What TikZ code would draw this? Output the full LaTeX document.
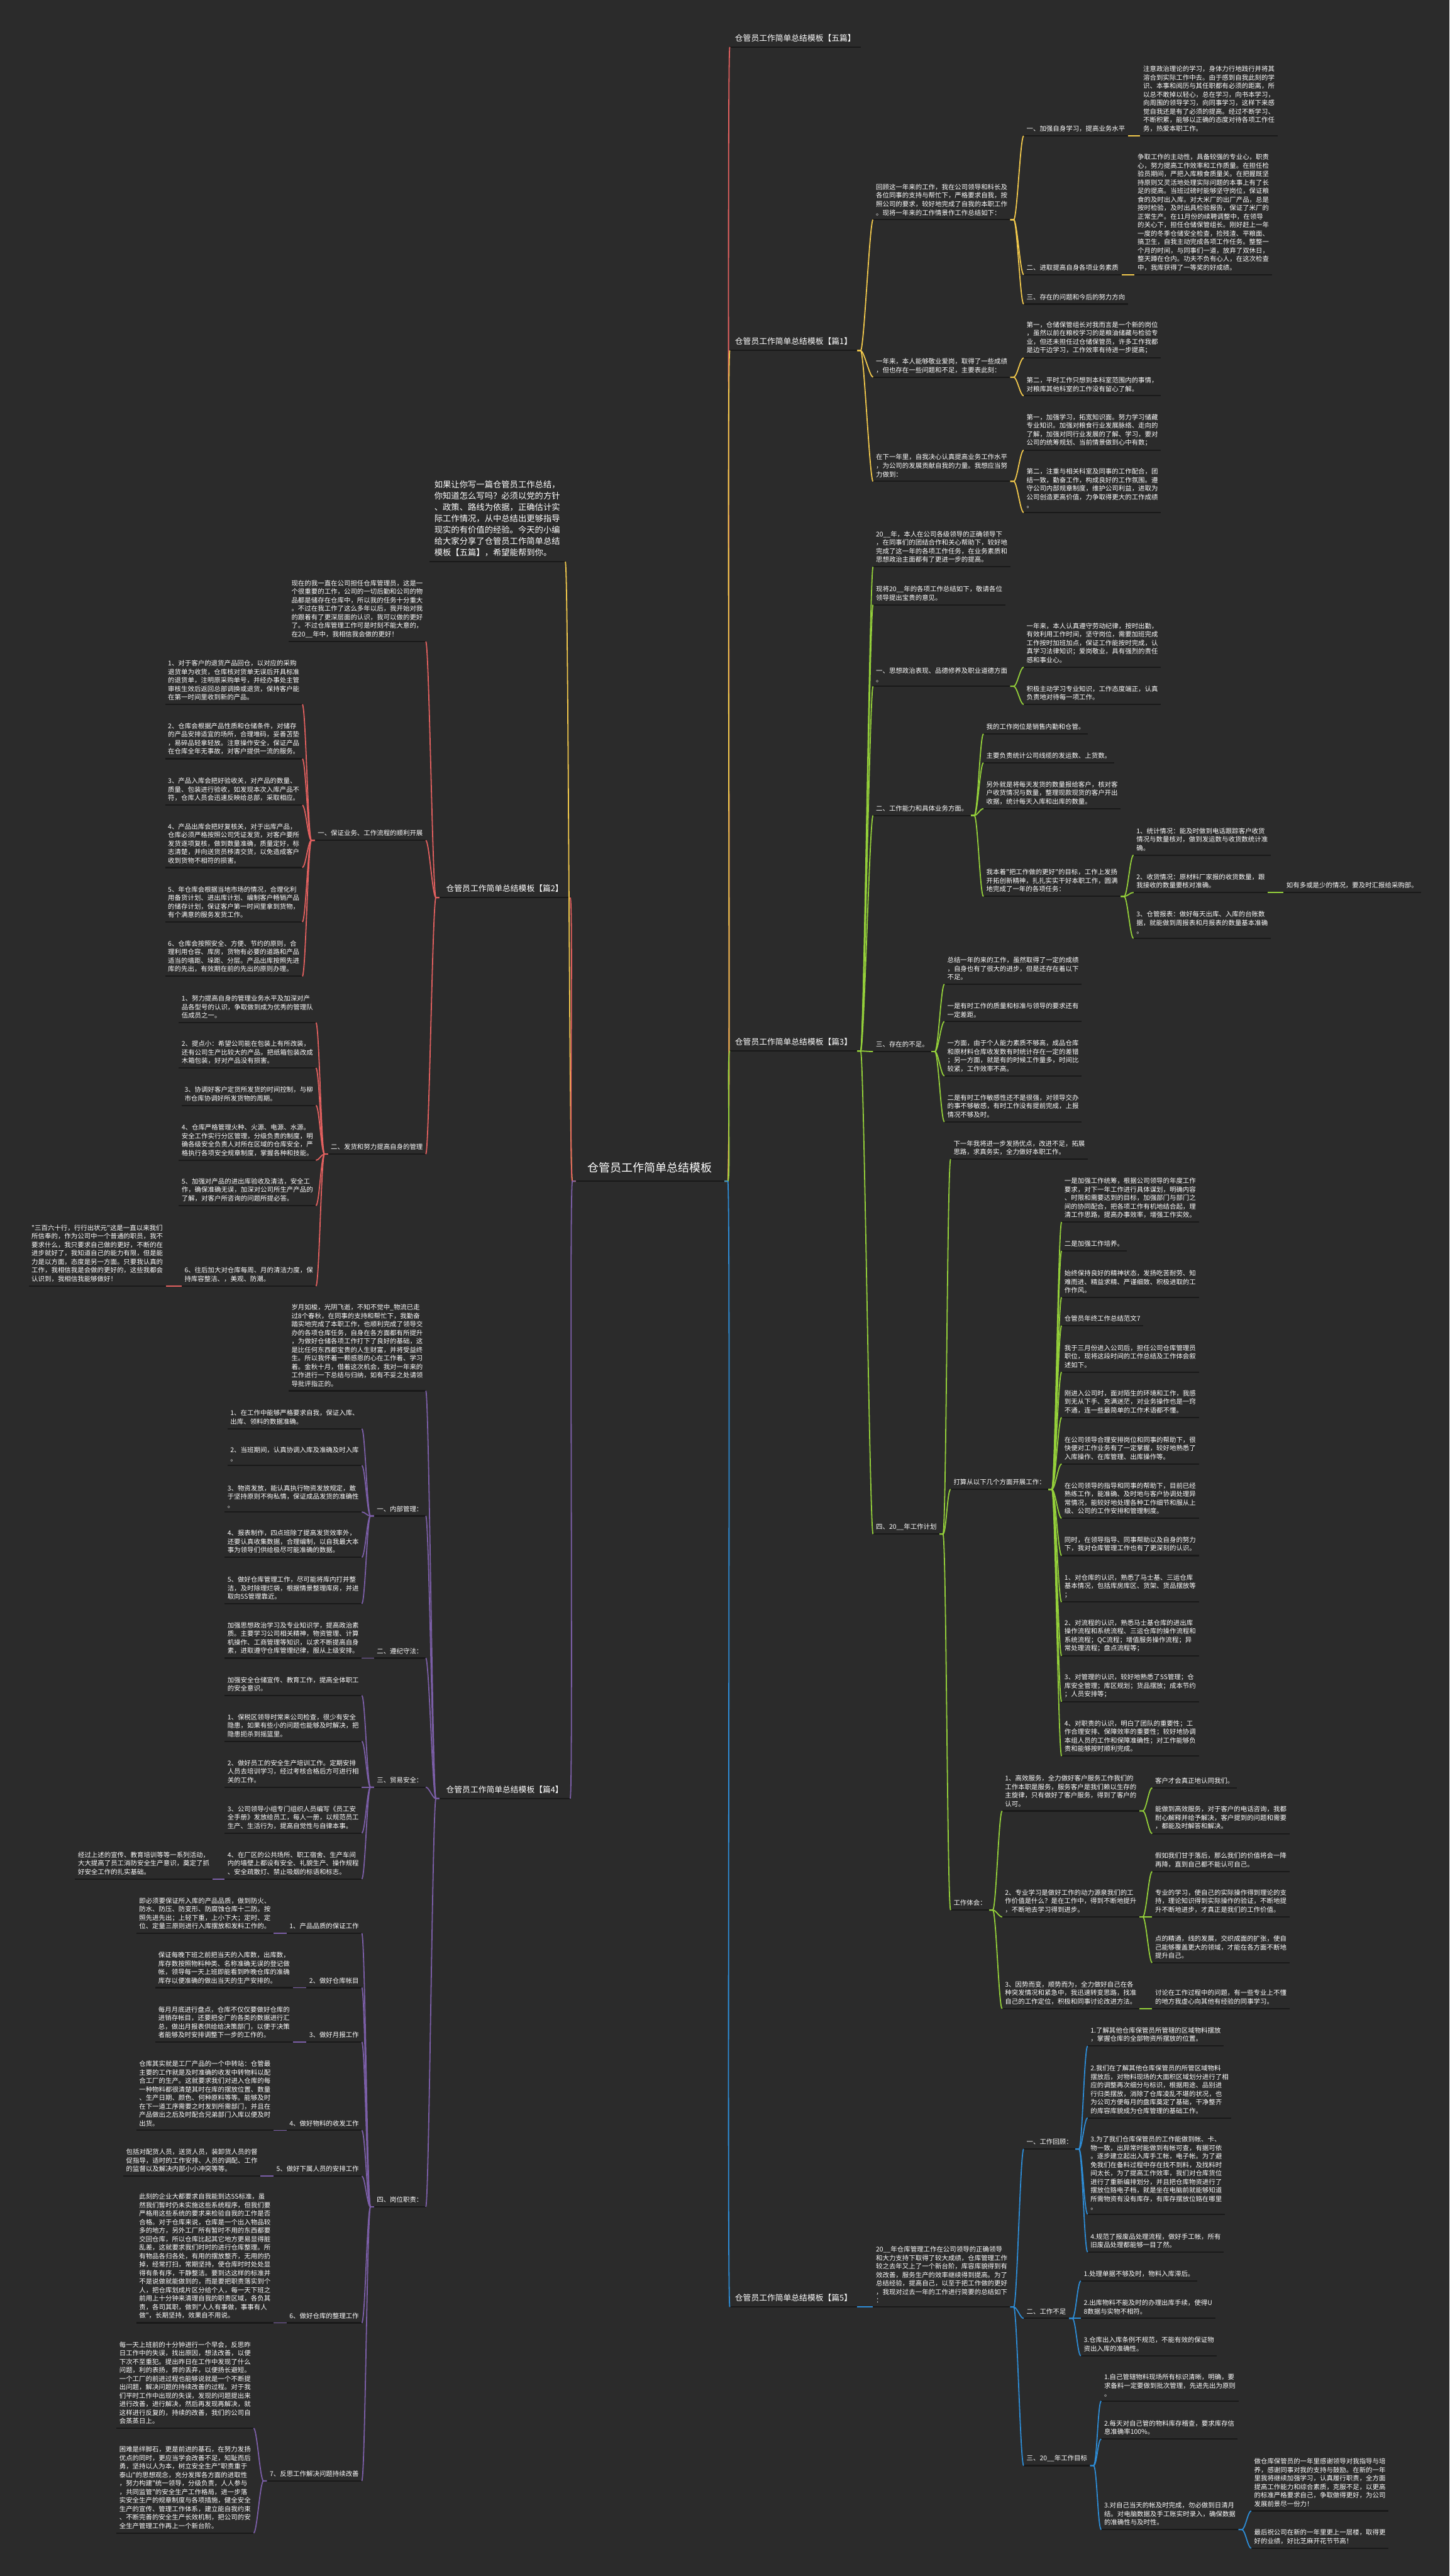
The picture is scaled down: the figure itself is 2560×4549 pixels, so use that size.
\documentclass[tikz,border=0pt]{standalone}
\usepackage{fontspec}
\newfontfamily\cjk{Noto Sans CJK SC}
\usetikzlibrary{calc}
\definecolor{bgc}{HTML}{2B2B2B}
\definecolor{cRed}{HTML}{E2605F}
\definecolor{cYel}{HTML}{F2C94C}
\definecolor{cGrn}{HTML}{94D03A}
\definecolor{cPur}{HTML}{7B5EA7}
\definecolor{cBlu}{HTML}{2D8CD6}
\tikzset{
 tx/.style={font=\cjk\fontsize{11.6pt}{15pt}\selectfont, text=white, align=left, inner xsep=5pt, inner ysep=7pt},
 lbl/.style={font=\cjk\fontsize{14.2pt}{18pt}\selectfont, text=white, align=left, inner xsep=9pt, inner ysep=9pt},
 ul/.style={line width=2.4pt, draw=black!90},
 cn/.style={line width=2pt}
}
\newcommand\mkR[4]{\node[tx,anchor=south west] (#1) at (#2,#3) {#4}; \draw[ul] (#1.south west) -- (#1.south east);}
\newcommand\mkL[4]{\node[tx,anchor=south east] (#1) at (#2,#3) {#4}; \draw[ul] (#1.south west) -- (#1.south east);}
\newcommand\cR[3]{\draw[cn,#1] (#2.south east) -- ++(6,0) .. controls +(6,0) and +(-6,0) .. (#3.south west);}
\newcommand\cL[3]{\draw[cn,#1] (#2.south west) -- ++(-6,0) .. controls +(-6,0) and +(6,0) .. (#3.south east);}
\begin{document}
\begin{tikzpicture}[x=1pt,y=-1pt]
\useasboundingbox (0,0) rectangle (2560,4549);
\fill[bgc] (0,0) rectangle (2560,4549);

% root
\node[font=\cjk\fontsize{20pt}{24pt}\selectfont, text=white, inner xsep=21pt, inner ysep=14pt, anchor=south west] (root) at (1017,2086) {仓管员工作简单总结模板};
\draw[ul] (root.south west) -- (root.south east);

% level-1 right
\node[lbl,anchor=south west] (w5) at (1289,83) {仓管员工作简单总结模板【五篇】};
\node[lbl,anchor=south west] (w1) at (1289,619) {仓管员工作简单总结模板【篇1】};
\node[lbl,anchor=south west] (w3) at (1289,1856) {仓管员工作简单总结模板【篇3】};
\node[lbl,anchor=south west] (w5b) at (1289,4074) {仓管员工作简单总结模板【篇5】};
% level-1 left
\node[font=\cjk\fontsize{14.8pt}{20pt}\selectfont, text=white, align=left, inner xsep=9pt, inner ysep=9pt, anchor=south west] (intro) at (758,992) {如果让你写一篇仓管员工作总结，\\你知道怎么写吗？必须以党的方针\\、政策、路线为依据，正确估计实\\际工作情况，从中总结出更够指导\\现实的有价值的经验。今天的小编\\给大家分享了仓管员工作简单总结\\模板【五篇】，希望能帮到你。};
\node[lbl,anchor=south east,inner xsep=12pt] (p2) at (1007,1585) {仓管员工作简单总结模板【篇2】};
\node[lbl,anchor=south east,inner xsep=12pt] (p4) at (1007,3176) {仓管员工作简单总结模板【篇4】};
\foreach \n in {w5,w1,w3,w5b,intro,p2,p4} \draw[ul] (\n.south west) -- (\n.south east);

% ===== 篇1 =====
\mkR{a1}{1542}{388}{回顾这一年来的工作，我在公司领导和科长及\\各位同事的支持与帮忙下，严格要求自我，按\\照公司的要求，较好地完成了自我的本职工作\\。现将一年来的工作情景作工作总结如下：}
\mkR{a11}{1808}{240}{一、加强自身学习，提高业务水平}
\mkR{a111}{2014}{240}{注意政治理论的学习，身体力行地践行并将其\\溶合到实际工作中去。由于感到自我此刻的学\\识、本事和阅历与其任职都有必须的距离，所\\以总不敢掉以轻心，总在学习，向书本学习，\\向周围的领导学习，向同事学习，这样下来感\\觉自我还是有了必须的提高。经过不断学习、\\不断积累，能够以正确的态度对待各项工作任\\务，热爱本职工作。}
\mkR{a12}{1808}{485}{二、进取提高自身各项业务素质}
\mkR{a121}{2004}{485}{争取工作的主动性，具备较强的专业心，职责\\心，努力提高工作效率和工作质量。在担任检\\验员期间，严把入库粮食质量关。在把握既坚\\持原则又灵活地处理实际问题的本事上有了长\\足的提高。当班过磅时能够坚守岗位，保证粮\\食的及时出入库。对大米厂的出厂产品，总是\\按时检验，及时出具检验报告，保证了米厂的\\正常生产。在11月份的续聘调整中，在领导\\的关心下，担任仓储保管组长。刚好赶上一年\\一度的冬季仓储安全检查，捡残渣、平粮面、\\搞卫生，自我主动完成各项工作任务。整整一\\个月的时间，与同事们一道，放弃了双休日，\\整天蹲在仓内。功夫不负有心人，在这次检查\\中，我库获得了一等奖的好成绩。}
\mkR{a13}{1808}{537}{三、存在的问题和今后的努力方向}
\mkR{a2}{1542}{666}{一年来，本人能够敬业爱岗，取得了一些成绩\\，但也存在一些问题和不足，主要表此刻：}
\mkR{a21}{1808}{632}{第一，仓储保管组长对我而言是一个新的岗位\\，虽然以前在粮校学习的是粮油储藏与检验专\\业，但还未担任过仓储保管员，许多工作我都\\是边干边学习，工作效率有待进一步提高；}
\mkR{a22}{1808}{699}{第二，平时工作只想到本科室范围内的事情，\\对粮库其他科室的工作没有留心了解。}
\mkR{a3}{1542}{850}{在下一年里，自我决心认真提高业务工作水平\\，为公司的发展贡献自我的力量。我想应当努\\力做到：}
\mkR{a31}{1808}{795}{第一，加强学习，拓宽知识面。努力学习储藏\\专业知识。加强对粮食行业发展脉络、走向的\\了解，加强对同行业发展的了解、学习，要对\\公司的统筹规划、当前情景做到心中有数；}
\mkR{a32}{1808}{905}{第二，注重与相关科室及同事的工作配合，团\\结一致，勤奋工作，构成良好的工作氛围。遵\\守公司内部规章制度，维护公司利益，进取为\\公司创造更高价值，力争取得更大的工作成绩\\。}

% ===== 篇3 =====
\mkR{b1}{1542}{1001}{20\_\_年，本人在公司各级领导的正确领导下\\，在同事们的团结合作和关心帮助下，较好地\\完成了这一年的各项工作任务，在业务素质和\\思想政治主面都有了更进一步的提高。}
\mkR{b2}{1542}{1068}{现将20\_\_年的各项工作总结如下，敬请各位\\领导提出宝贵的意见。}
\mkR{b3}{1542}{1212}{一、思想政治表现、品德修养及职业道德方面\\。}
\mkR{b31}{1808}{1178}{一年来，本人认真遵守劳动纪律，按时出勤，\\有效利用工作时间，坚守岗位，需要加班完成\\工作按时加班加点，保证工作能按时完成，认\\真学习法律知识；爱岗敬业，具有强烈的责任\\感和事业心。}
\mkR{b32}{1808}{1244}{积极主动学习专业知识，工作态度端正，认真\\负责地对待每一项工作。}
\mkR{b4}{1542}{1440}{二、工作能力和具体业务方面。}
\mkR{b41}{1737}{1296}{我的工作岗位是销售内勤和仓管。}
\mkR{b42}{1737}{1347}{主要负责统计公司线缆的发运数、上货数。}
\mkR{b43}{1737}{1428}{另外就是将每天发货的数量报给客户，核对客\\户收货情况与数量，整理现款现货的客户开出\\收据，统计每天入库和出库的数量。}
\mkR{b44}{1737}{1583}{我本着"把工作做的更好"的目标，工作上发扬\\开拓创新精神，扎扎实实干好本职工作，圆满\\地完成了一年的各项任务：}
\mkR{b441}{2002}{1510}{1、统计情况：能及时做到电话跟踪客户收货\\情况与数量核对，做到发运数与收货数统计准\\确。}
\mkR{b442}{2002}{1576}{2、收货情况：原材料厂家报的收货数量，跟\\我接收的数量要核对准确。}
\mkR{b4421}{2267}{1576}{如有多或是少的情况，要及时汇报给采购部。}
\mkR{b443}{2002}{1657}{3、仓管报表：做好每天出库、入库的台账数\\据，就能做到周报表和月报表的数量基本准确\\。}
\mkR{b5}{1542}{1857}{三、存在的不足。}
\mkR{b51}{1668}{1738}{总结一年的来的工作，虽然取得了一定的成绩\\，自身也有了很大的进步，但是还存在着以下\\不足。}
\mkR{b52}{1668}{1804}{一是有时工作的质量和标准与领导的要求还有\\一定差距。}
\mkR{b53}{1668}{1900}{一方面，由于个人能力素质不够高，成品仓库\\和原材料仓库收发数有时统计存在一定的差错\\；另一方面，就是有的时候工作量多，时间比\\较紧，工作效率不高。}
\mkR{b54}{1668}{1981}{二是有时工作敏感性还不是很强，对领导交办\\的事不够敏感，有时工作没有提前完成，上报\\情况不够及时。}
\mkR{b6}{1542}{2709}{四、20\_\_年工作计划}
\mkR{b61}{1679}{2047}{下一年我将进一步发扬优点，改进不足，拓展\\思路，求真务实，全力做好本职工作。}
\mkR{b62}{1679}{2630}{打算从以下几个方面开展工作：}
\mkR{b621}{1875}{2158}{一是加强工作统筹，根据公司领导的年度工作\\要求，对下一年工作进行具体谋划，明确内容\\、时限和需要达到的目标，加强部门与部门之\\间的协同配合，把各项工作有机地结合起，理\\清工作思路，提高办事效率，增强工作实效。}
\mkR{b622}{1875}{2209}{二是加强工作培养。}
\mkR{b623}{1875}{2291}{始终保持良好的精神状态，发扬吃苦耐劳、知\\难而进、精益求精、严谨细致、积极进取的工\\作作风。}
\mkR{b624}{1875}{2341}{仓管员年终工作总结范文7}
\mkR{b625}{1875}{2423}{我于三月份进入公司后，担任公司仓库管理员\\职位，现将这段时间的工作总结及工作体会叙\\述如下。}
\mkR{b626}{1875}{2503}{刚进入公司时，面对陌生的环境和工作，我感\\到无从下手、充满迷茫，对业务操作也是一窍\\不通，连一些最简单的工作术语都不懂。}
\mkR{b627}{1875}{2585}{在公司领导合理安排岗位和同事的帮助下，很\\快便对工作业务有了一定掌握，较好地熟悉了\\入库操作、在库管理、出库操作等。}
\mkR{b628}{1875}{2681}{在公司领导的指导和同事的帮助下，目前已经\\熟练工作，能准确、及时地与客户协调处理异\\常情况，能较好地处理各种工作细节和服从上\\级、公司的工作安排和管理制度。}
\mkR{b629}{1875}{2747}{同时，在领导指导、同事帮助以及自身的努力\\下，我对仓库管理工作也有了更深刻的认识。}
\mkR{b6210}{1875}{2829}{1、对仓库的认识，熟悉了马士基、三运仓库\\基本情况，包括库房库区、货架、货品摆放等\\；}
\mkR{b6211}{1875}{2924}{2、对流程的认识，熟悉马士基仓库的进出库\\操作流程和系统流程、三运仓库的操作流程和\\系统流程；QC流程；增值服务操作流程；异\\常处理流程；盘点流程等；}
\mkR{b6212}{1875}{3005}{3、对管理的认识，较好地熟悉了5S管理；仓\\库安全管理；库区规划；货品摆放；成本节约\\；人员安排等；}
\mkR{b6213}{1875}{3101}{4、对职责的认识，明白了团队的重要性；工\\作合理安排、保障效率的重要性；较好地协调\\本组人员的工作和保障准确性；对工作能够负\\责和能够按时顺利完成。}
\mkR{b63}{1679}{3373}{工作体会：}
\mkR{b631}{1770}{3198}{1、高效服务，全力做好客户服务工作我们的\\工作本职是服务，服务客户是我们赖以生存的\\主旋律，只有做好了客户服务，得到了客户的\\认可。}
\mkR{b6311}{2035}{3157}{客户才会真正地认同我们。}
\mkR{b6312}{2035}{3238}{能做到高效服务，对于客户的电话咨询，我都\\耐心解释并给予解决，客户提到的问题和需要\\，都能及时解答和解决。}
\mkR{b632}{1770}{3385}{2、专业学习是做好工作的动力源泉我们的工\\作价值是什么？是在工作中，得到不断地提升\\，不断地去学习得到进步。}
\mkR{b6321}{2035}{3305}{假如我们甘于落后，那么我们的价值将会一降\\再降，直到自己都不能认可自己。}
\mkR{b6322}{2035}{3385}{专业的学习，使自己的实际操作得到理论的支\\持，理论知识得到实际操作的验证，不断地提\\升不断地进步，才真正是我们的工作价值。}
\mkR{b6323}{2035}{3466}{点的精通，线的发展，交织成面的扩张，使自\\己能够覆盖更大的领域，才能在各方面不断地\\提升自己。}
\mkR{b633}{1770}{3547}{3、因势而变，顺势而为，全力做好自己在各\\种突发情况和紧急中，我迅速转变思路，找准\\自己的工作定位，积极和同事讨论改进方法。}
\mkR{b6331}{2035}{3547}{讨论在工作过程中的问题，有一些专业上不懂\\的地方我虚心向其他有经验的同事学习。}

% ===== 篇5 =====
\mkR{c1}{1542}{4074}{20\_\_年仓库管理工作在公司领导的正确领导\\和大力支持下取得了较大成绩，仓库管理工作\\较之去年又上了一个新台阶，库容库貌得到有\\效改善，服务生产的效率继续得到提高。为了\\总结经验，提高自己，以至于把工作做的更好\\，我现对过去一年的工作进行简要的总结如下\\：}
\mkR{c11}{1808}{3795}{一、工作回顾：}
\mkR{c111}{1921}{3613}{1.了解其他仓库保管员所管辖的区域物料摆放\\，掌握仓库的全部物资所摆放的位置。}
\mkR{c112}{1921}{3740}{2.我们在了解其他仓库保管员的所管区域物料\\摆放后，对物料现场的大面积区域划分进行了相\\应的调整再次细分与标识，根据用途、品别进\\行归类摆放，消除了仓库凌乱不堪的状况，也\\为公司方便每月的盘库奠定了基础，干净整齐\\的库容库貌成为仓库管理的基础工作。}
\mkR{c113}{1921}{3910}{3.为了我们仓库保管员的工作能做到帐、卡、\\物一致，出异常时能做到有帐可查，有据可依\\。逐步建立起出入库手工帐，电子帐。为了避\\免我们在备料过程中存在找不到料，及找料时\\间太长，为了提高工作效率，我们对仓库货位\\进行了重新编排划分，并且把仓库物资进行了\\摆放位臵电子档，就是坐在电脑前就能够知道\\所需物资有没有库存，有库存摆放位臵在哪里\\。}
\mkR{c114}{1921}{3977}{4.规范了报废品处理流程，做好手工帐，所有\\旧废品处理都能够一目了然。}
\mkR{c12}{1808}{4094}{二、工作不足}
\mkR{c121}{1909}{4028}{1.处理单据不够及时，物料入库滞后。}
\mkR{c122}{1909}{4094}{2.出库物料不能及时的办理出库手续，使得U\\8数据与实物不相符。}
\mkR{c123}{1909}{4160}{3.仓库出入库条例不规范，不能有效的保证物\\资出入库的准确性。}
\mkR{c13}{1808}{4354}{三、20\_\_年工作目标}
\mkR{c131}{1945}{4240}{1.自己管辖物料现场所有标识清晰，明确，要\\求备料一定要做到批次管理，先进先出为原则\\。}
\mkR{c132}{1945}{4307}{2.每天对自己管的物料库存稽查，要求库存信\\息准确率100\%。}
\mkR{c133}{1945}{4467}{3.对自己当天的帐及时完成，勿必做到日清月\\结。对电脑数据及手工账实时录入，确保数据\\的准确性与及时性。}
\mkR{c1331}{2210}{4434}{做仓库保管员的一年里感谢领导对我指导与培\\养，感谢同事对我的支持与鼓励。在新的一年\\里我将继续加强学习，认真履行职责，全方面\\提高工作能力和综合素质，克服不足，以更高\\的标准严格要求自己，争取做得更好，为公司\\发展前景尽一份力！}
\mkR{c1332}{2210}{4500}{最后祝公司在新的一年里更上一层楼，取得更\\好的业绩，好比芝麻开花节节高！}

% ===== 篇2 =====
\mkL{d1}{752}{1133}{现在的我一直在公司担任仓库管理员，这是一\\个很重要的工作，公司的一切后勤和公司的物\\品都是储存在仓库中，所以我的任务十分重大\\。不过在我工作了这么多年以后，我开始对我\\的跟着有了更深层面的认识，我可以做的更好\\了。不过仓库管理工作可是时刻不能大意的，\\在20\_\_年中，我相信我会做的更好！}
\mkL{d2}{752}{1484}{一、保证业务、工作流程的顺利开展}
\mkL{d21}{534}{1244}{1、对于客户的退货产品回仓，以对应的采购\\退货单为收货，仓库核对货单无误后开具标准\\的退货单，注明原采购单号，并经办事处主管\\审核生效后返回总部调换或退货，保持客户能\\在第一时间里收到新的产品。}
\mkL{d22}{534}{1340}{2、仓库会根据产品性质和仓储条件，对储存\\的产品安排适宜的场所，合理堆码，妥善苫垫\\，易碎品轻拿轻放。注意操作安全，保证产品\\在仓库全年无事故，对客户提供一流的服务。}
\mkL{d23}{534}{1422}{3、产品入库会把好验收关，对产品的数量、\\质量、包装进行验收，如发现本次入库产品不\\符，仓库人员会迅速反映给总部，采取相应。}
\mkL{d24}{534}{1532}{4、产品出库会把好复核关，对于出库产品，\\仓库必须严格按照公司凭证发货，对客户要所\\发货逐项复核，做到数量准确，质量定好，标\\志清楚，并向送货员移清交货，以免造成客户\\收到货物不相符的损害。}
\mkL{d25}{534}{1628}{5、年仓库会根据当地市场的情况，合理化利\\用备货计划、进出库计划、编制客户畅销产品\\的储存计划，保证客户第一时间里拿到货物，\\有个满意的服务发货工作。}
\mkL{d26}{534}{1724}{6、仓库会按照安全、方便、节约的原则，合\\理利用仓容、库房，货物有必要的道路和产品\\适当的墙距、垛距、分层。产品出库按照先进\\库的先出，有效期在前的先出的原则办理。}
\mkL{d3}{752}{2038}{二、发货和努力提高自身的管理}
\mkL{d31}{558}{1806}{1、努力提高自身的管理业务水平及加深对产\\品各型号的认识，争取做到成为优秀的管理队\\伍成员之一。}
\mkL{d32}{558}{1886}{2、提点小：希望公司能在包装上有所改装，\\还有公司生产比较大的产品，把纸箱包装改成\\木箱包装，好对产品没有损害。}
\mkL{d33}{558}{1952}{3、协调好客户定货所发货的时间控制，与柳\\市仓库协调好所发货物的周期。}
\mkL{d34}{558}{2049}{4、仓库严格管理火种、火源、电源、水源。\\安全工作实行分区管理，分级负责的制度，明\\确各级安全负责人对所在区域的仓库安全，严\\格执行各项安全规章制度，掌握各种和技能。}
\mkL{d35}{558}{2129}{5、加强对产品的进出库验收及清洁，安全工\\作，确保准确无误，加深对公司所生产产品的\\了解，对客户所咨询的问题所提必答。}
\mkL{d36}{558}{2271}{6、往后加大对仓库每周、月的清洁力度，保\\持库容整洁、，美观、防潮。}
\mkL{d361}{293}{2271}{"三百六十行，行行出状元"这是一直以来我们\\所信奉的，作为公司中一个普通的职员，我不\\要求什么，我只要求自己做的更好，不断的在\\进步就好了，我知道自己的能力有限，但是能\\力是以方面，态度是另一方面。只要我认真的\\工作，我相信我是会做的更好的，这些我都会\\认识到，我相信我能够做好！}

% ===== 篇4 =====
\mkL{e1}{752}{2456}{岁月如梭，光阴飞逝，不知不觉中\_物流已走\\过8个春秋，在同事的支持和帮忙下，我勤奋\\踏实地完成了本职工作，也顺利完成了领导交\\办的各项仓库任务，自身在各方面都有所提升\\，为做好仓储各项工作打下了良好的基础，这\\是比任何东西都宝贵的人生财富，并将受益终\\生。所以我怀着一颗感恩的心在工作着、学习\\着。金秋十月，借着这次机会，我对一年来的\\工作进行一下总结与归纳，如有不妥之处请领\\导批评指正的。}
\mkL{e2}{752}{2677}{一、内部管理：}
\mkL{e21}{639}{2523}{1、在工作中能够严格要求自我，保证入库、\\出库、领料的数据准确。}
\mkL{e22}{639}{2588}{2、当班期间，认真协调入库及准确及时入库\\。}
\mkL{e23}{639}{2670}{3、物资发放，能认真执行物资发放规定，敢\\于坚持原则不徇私情，保证成品发货的准确性\\。}
\mkL{e24}{639}{2750}{4、报表制作，四点班除了提高发货效率外，\\还要认真收集数据，合理编制，以自我最大本\\事为领导们供给极尽可能准确的数据。}
\mkL{e25}{639}{2832}{5、做好仓库管理工作，尽可能将库内打并整\\洁，及时除理烂袋，根据情景整理库房，并进\\取向5S管理靠近。}
\mkL{e3}{752}{2928}{二、遵纪守法：}
\mkL{e31}{639}{2928}{加强思想政治学习及专业知识学，提高政治素\\质。主要学习公司相关精神，物资管理、计算\\机操作、工商管理等知识，以求不断提高自身\\素，进取遵守仓库管理纪律，服从上级安排。}
\mkL{e4}{752}{3156}{三、贸易安全：}
\mkL{e41}{639}{2994}{加强安全仓储宣传、教育工作，提高全体职工\\的安全意识。}
\mkL{e42}{639}{3075}{1、保税区领导时常来公司检查，很少有安全\\隐患，如果有些小的问题也能够及时解决，把\\隐患扼杀到摇篮里。}
\mkL{e43}{639}{3156}{2、做好员工的安全生产培训工作。定期安排\\人员去培训学习，经过考核合格后方可进行相\\关的工作。}
\mkL{e44}{639}{3237}{3、公司领导小组专门组织人员编写《员工安\\全手册》发放给员工，每人一册，以规范员工\\生产、生活行为，提高自觉性与自律本事。}
\mkL{e45}{639}{3318}{4、在厂区的公共场所、职工宿舍、生产车间\\内的墙壁上都设有安全、礼貌生产、操作规程\\、安全疏散灯、禁止吸烟的标语和标志。}
\mkL{e451}{375}{3318}{经过上述的宣传、教育培训等等一系列活动，\\大大提高了员工消防安全生产意识，奠定了抓\\好安全工作的扎实基础。}
\mkL{e5}{752}{3897}{四、岗位职责：}
\mkL{e51}{639}{3414}{1、产品品质的保证工作}
\mkL{e511}{483}{3414}{即必须要保证所入库的产品品质，做到防火、\\防水、防压、防变形、防腐蚀仓库十二防。按\\照先进先出；上轻下重，上小下大；定时、定\\位、定量三原则进行入库摆放和发料工作的。}
\mkL{e52}{639}{3510}{2、做好仓库帐目}
\mkL{e521}{517}{3510}{保证每晚下班之前把当天的入库数，出库数，\\库存数按照物料种类、名称准确无误的登记做\\帐，领导每一天上班即能看到昨晚仓库的准确\\库存以便准确的做出当天的生产安排的。}
\mkL{e53}{639}{3606}{3、做好月报工作}
\mkL{e531}{517}{3606}{每月月底进行盘点，仓库不仅仅要做好仓库的\\进销存帐目，还要把全厂的各类的数据进行汇\\总，做出月报表供给给决策部门，以便于决策\\者能够及时安排调整下一步的工作的。}
\mkL{e54}{639}{3762}{4、做好物料的收发工作}
\mkL{e541}{483}{3762}{仓库其实就是工厂产品的一个中转站：仓管最\\主要的工作就是及时准确的收发中转物料以配\\合工厂的生产。这就要求我们对进入仓库的每\\一种物料都很清楚其时在库的摆放位置、数量\\、生产日期、颜色、何种原料等等。能够及时\\在下一道工序需要之时发到所需部门，并且在\\产品做出之后及时配合兄弟部门入库以便及时\\出货。}
\mkL{e55}{639}{3843}{5、做好下属人员的安排工作}
\mkL{e551}{460}{3843}{包括对配货人员，送货人员，装卸货人员的督\\促指导，适时的工作安排、人员的调配、工作\\的监督以及解决内部小小冲突等等。}
\mkL{e56}{639}{4102}{6、做好仓库的整理工作}
\mkL{e561}{483}{4102}{此刻的企业大都要求自我能到达5S标准，虽\\然我们暂时仍未实施这些系统程序，但我们要\\严格用这些系统的要求来检验自我的工作是否\\合格。对于仓库来说，仓库是一个出入物品较\\多的地方，另外工厂所有暂时不用的东西都要\\交回仓库，所以仓库比起其它地方更易显得脏\\乱差，这就要求我们时时的进行仓库整理。所\\有物品各归各处，有用的摆放整齐，无用的扔\\掉，经常打扫，常期坚持，使仓库时时处处显\\得有条有序，干静整洁。要到达这样的标准并\\不是说做就能做到的，而是要把职责落实到个\\人，把仓库划成片区分给个人，每一天下班之\\前用上十分钟来清理自我的职责区域，各负其\\责，各司其职，做到"人人有事做，事事有人\\做"，长期坚持，效果自不用说。}
\mkL{e57}{639}{4381}{7、反思工作解决问题持续改善}
\mkL{e571}{448}{4288}{每一天上班前的十分钟进行一个早会，反思昨\\日工作中的失误，找出原因，想法改善，以便\\下次不至重犯。提出昨日在工作中发现了什么\\问题，利的表扬，弊的丢弃，以便扬长避短。\\一个工厂的前进过程也能够说就是一个不断提\\出问题，解决问题的持续改善的过程。对于我\\们平时工作中出现的失误，发现的问题提出来\\进行改善，进行解决，然后再发现再解决，就\\这样进行反复的，持续的改善，我们的公司自\\会蒸蒸日上。}
\mkL{e572}{448}{4473}{困难是绊脚石，更是前进的基石，在努力发扬\\优点的同时，更应当学会改善不足，知耻而后\\勇，坚持以人为本，树立安全生产"职责重于\\泰山"的思想观念，充分发挥各方面的进取性\\，努力构建"统一领导，分级负责，人人参与\\，共同监管"的安全生产工作格局，进一步落\\实安全生产的规章制度与各项措施，健全安全\\生产的宣传、管理工作体系，建立能自我约束\\、不断完善的安全生产长效机制，把公司的安\\全生产管理工作再上一个新台阶。}

% ===== connectors =====
\cR{cRed}{root}{w5}
\cR{cYel}{root}{w1}
\cR{cGrn}{root}{w3}
\cR{cBlu}{root}{w5b}
\cL{cYel}{root}{intro}
\cL{cRed}{root}{p2}
\cL{cPur}{root}{p4}

\foreach \c in {a1,a2,a3} {\cR{cYel}{w1}{\c}}
\foreach \c in {a11,a12,a13} {\cR{cYel}{a1}{\c}}
\cR{cYel}{a11}{a111}
\cR{cYel}{a12}{a121}
\foreach \c in {a21,a22} {\cR{cYel}{a2}{\c}}
\foreach \c in {a31,a32} {\cR{cYel}{a3}{\c}}

\foreach \c in {b1,b2,b3,b4,b5,b6} {\cR{cGrn}{w3}{\c}}
\foreach \c in {b31,b32} {\cR{cGrn}{b3}{\c}}
\foreach \c in {b41,b42,b43,b44} {\cR{cGrn}{b4}{\c}}
\foreach \c in {b441,b442,b443} {\cR{cGrn}{b44}{\c}}
\cR{cGrn}{b442}{b4421}
\foreach \c in {b51,b52,b53,b54} {\cR{cGrn}{b5}{\c}}
\foreach \c in {b61,b62,b63} {\cR{cGrn}{b6}{\c}}
\foreach \c in {b621,b622,b623,b624,b625,b626,b627,b628,b629,b6210,b6211,b6212,b6213} {\cR{cGrn}{b62}{\c}}
\foreach \c in {b631,b632,b633} {\cR{cGrn}{b63}{\c}}
\foreach \c in {b6311,b6312} {\cR{cGrn}{b631}{\c}}
\foreach \c in {b6321,b6322,b6323} {\cR{cGrn}{b632}{\c}}
\cR{cGrn}{b633}{b6331}

\cR{cBlu}{w5b}{c1}
\foreach \c in {c11,c12,c13} {\cR{cBlu}{c1}{\c}}
\foreach \c in {c111,c112,c113,c114} {\cR{cBlu}{c11}{\c}}
\foreach \c in {c121,c122,c123} {\cR{cBlu}{c12}{\c}}
\foreach \c in {c131,c132,c133} {\cR{cBlu}{c13}{\c}}
\foreach \c in {c1331,c1332} {\cR{cBlu}{c133}{\c}}

\foreach \c in {d1,d2,d3} {\cL{cRed}{p2}{\c}}
\foreach \c in {d21,d22,d23,d24,d25,d26} {\cL{cRed}{d2}{\c}}
\foreach \c in {d31,d32,d33,d34,d35,d36} {\cL{cRed}{d3}{\c}}
\cL{cRed}{d36}{d361}

\foreach \c in {e1,e2,e3,e4,e5} {\cL{cPur}{p4}{\c}}
\foreach \c in {e21,e22,e23,e24,e25} {\cL{cPur}{e2}{\c}}
\cL{cPur}{e3}{e31}
\foreach \c in {e41,e42,e43,e44,e45} {\cL{cPur}{e4}{\c}}
\cL{cPur}{e45}{e451}
\foreach \c in {e51,e52,e53,e54,e55,e56,e57} {\cL{cPur}{e5}{\c}}
\cL{cPur}{e51}{e511}
\cL{cPur}{e52}{e521}
\cL{cPur}{e53}{e531}
\cL{cPur}{e54}{e541}
\cL{cPur}{e55}{e551}
\cL{cPur}{e56}{e561}
\cL{cPur}{e57}{e571}
\cL{cPur}{e57}{e572}
\end{tikzpicture}
\end{document}
